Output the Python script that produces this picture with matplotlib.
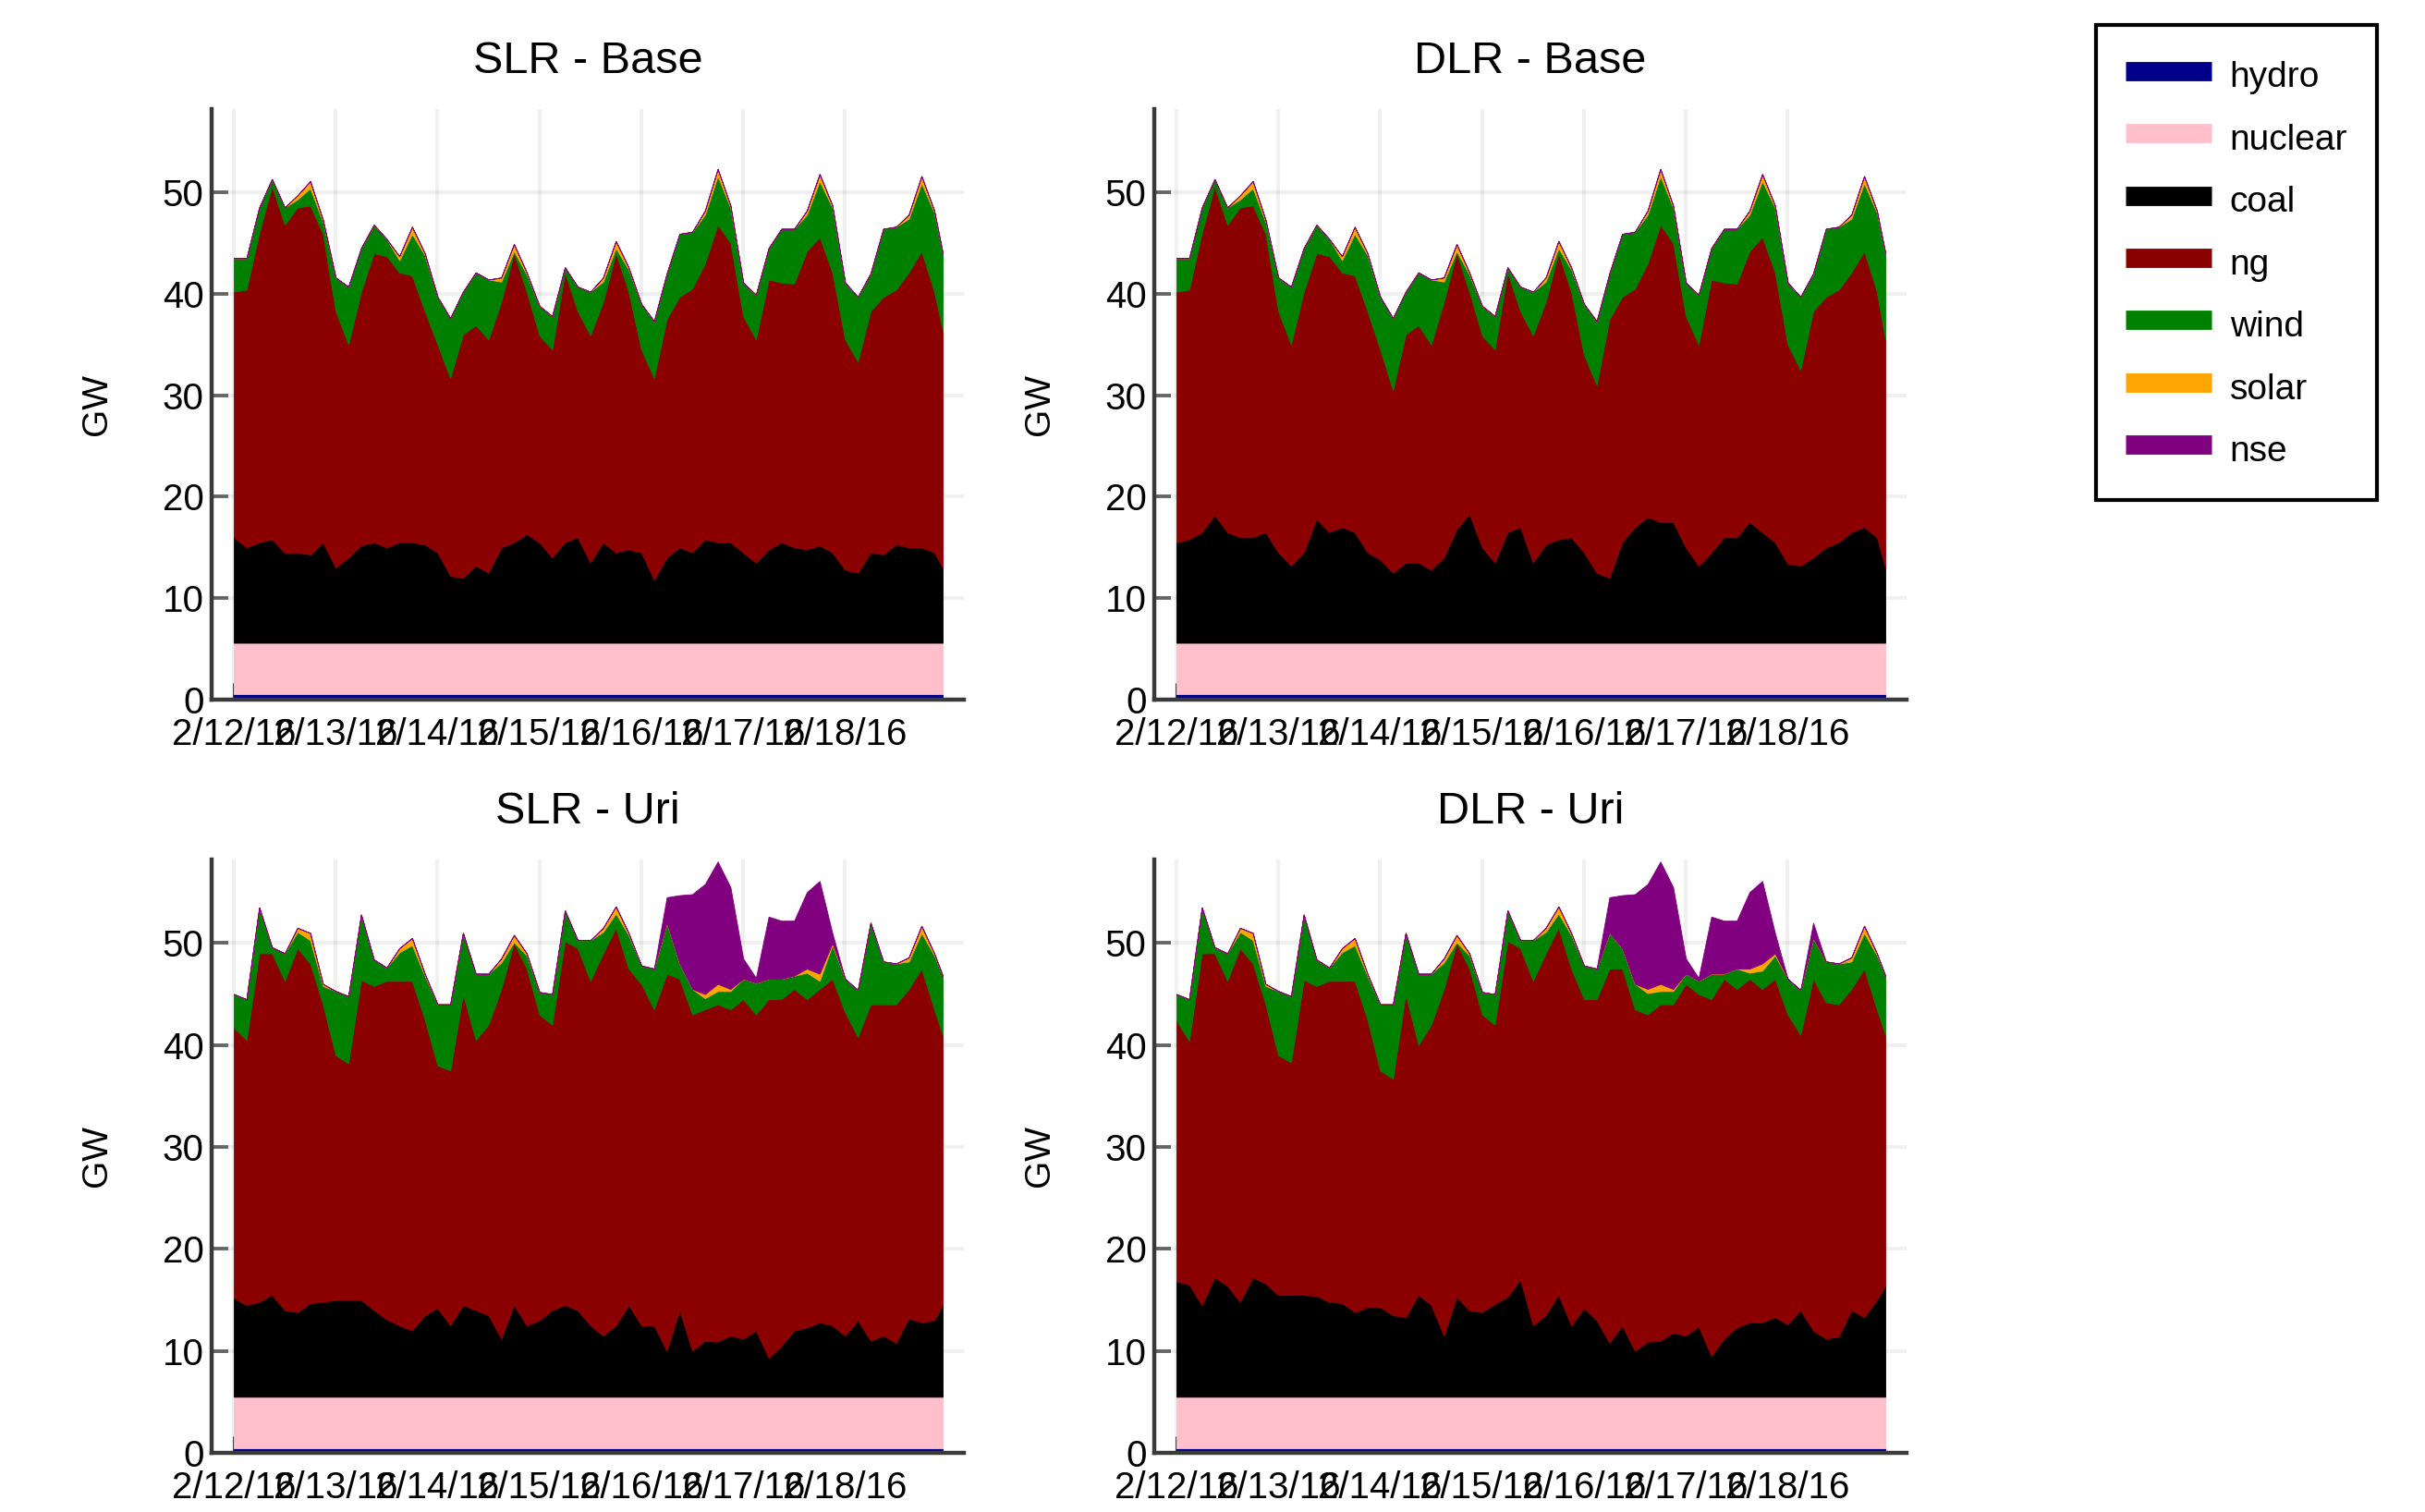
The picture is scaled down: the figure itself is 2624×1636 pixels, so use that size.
import numpy as np
import matplotlib
matplotlib.use("Agg")
import matplotlib.pyplot as plt
from matplotlib.lines import Line2D

plt.rcParams['font.family'] = ['Liberation Sans', 'DejaVu Sans']

# hours since 2/12/16 00:00, sampled every 3 h
hours = list(range(0, 166, 3)) + [167]
day_ticks = [0, 24, 48, 72, 96, 120, 144]
day_labels = ['2/12/16', '2/13/16', '2/14/16', '2/15/16', '2/16/16', '2/17/16', '2/18/16']

techs = ['hydro', 'nuclear', 'coal', 'ng', 'wind', 'solar', 'nse']
colors = ['#00008b', '#ffc0cb', '#000000', '#8b0000', '#008000', '#ffa500', '#800080']

# solar output (GW), same daily shape in every case
solar = [0, 0, 0, 0, 0, 0.4, 0.7, 0.2,
         0, 0, 0, 0, 0, 0.4, 0.7, 0.2,
         0, 0, 0, 0, 0, 0.4, 0.7, 0.2,
         0, 0, 0, 0, 0, 0.4, 0.7, 0.2,
         0, 0, 0, 0, 0, 0.4, 0.7, 0.2,
         0, 0, 0, 0, 0, 0.4, 0.7, 0.2,
         0, 0, 0, 0, 0, 0.4, 0.7, 0.2,
         0]

# ---- Base week ----
hydro_base = [0.55] * 57
nuclear_base = [5.05] * 57

# top of the stack (total generation)
total_base = [43.5, 43.5, 48.5, 51.3, 48.5, 49.7, 51.1, 47.3,
              41.6, 40.7, 44.5, 46.8, 45.4, 43.7, 46.6, 44.0,
              39.7, 37.6, 40.2, 42.1, 41.4, 41.6, 44.9, 42.1,
              38.8, 37.8, 42.6, 40.7, 40.2, 41.6, 45.2, 42.6,
              39.0, 37.3, 42.0, 45.9, 46.1, 48.2, 52.3, 48.7,
              41.1, 39.9, 44.5, 46.4, 46.4, 48.2, 51.8, 48.7,
              41.1, 39.7, 42.0, 46.4, 46.6, 47.8, 51.6, 48.2,
              44.0]

slr_base_ng_top = [40.2, 40.4, 46.0, 50.6, 46.8, 48.5, 48.7, 45.9,
                   38.3, 35.0, 40.2, 44.0, 43.7, 42.1, 41.8, 38.3,
                   35.0, 31.7, 36.0, 36.9, 35.5, 39.2, 44.0, 40.2,
                   35.9, 34.5, 42.1, 38.3, 35.9, 39.2, 44.0, 40.2,
                   34.5, 31.7, 37.5, 39.7, 40.5, 43.0, 46.8, 45.0,
                   37.8, 35.5, 41.4, 41.1, 41.0, 44.2, 45.6, 42.1,
                   35.5, 33.3, 38.3, 39.7, 40.4, 42.1, 44.2, 40.2,
                   36.4]

slr_base_coal_top = [16.0, 15.0, 15.5, 15.8, 14.5, 14.5, 14.3, 15.5,
                     13.0, 14.0, 15.2, 15.5, 15.0, 15.5, 15.5, 15.3,
                     14.5, 12.2, 12.0, 13.2, 12.5, 15.0, 15.5, 16.3,
                     15.5, 14.0, 15.5, 16.0, 13.5, 15.5, 14.5, 14.8,
                     14.5, 11.8, 14.0, 15.0, 14.5, 15.8, 15.5, 15.5,
                     14.5, 13.5, 14.8, 15.5, 15.0, 14.8, 15.2, 14.5,
                     12.8, 12.5, 14.5, 14.3, 15.3, 15.0, 15.0, 14.5,
                     13.0]

dlr_base_ng_top = [40.2, 40.4, 46.0, 50.6, 46.8, 48.5, 48.7, 45.9,
                   38.3, 35.0, 40.2, 44.0, 43.7, 42.1, 41.8, 38.3,
                   34.5, 30.5, 36.0, 36.9, 35.0, 39.2, 44.0, 40.2,
                   35.9, 34.5, 42.1, 38.3, 35.9, 39.2, 44.0, 40.2,
                   34.0, 31.0, 37.5, 39.7, 40.5, 43.0, 46.8, 45.0,
                   37.8, 35.0, 41.4, 41.1, 41.0, 44.2, 45.6, 42.1,
                   35.0, 32.5, 38.3, 39.7, 40.4, 42.1, 44.2, 40.2,
                   35.5]

dlr_base_coal_top = [15.5, 15.8, 16.5, 18.2, 16.5, 16.0, 16.0, 16.5,
                     14.5, 13.2, 14.5, 17.8, 16.5, 17.0, 16.5, 14.5,
                     13.8, 12.5, 13.5, 13.5, 12.8, 14.0, 16.8, 18.3,
                     15.0, 13.5, 16.5, 17.0, 13.5, 15.3, 15.8, 16.0,
                     14.5, 12.5, 12.0, 15.5, 17.0, 18.0, 17.5, 17.5,
                     15.0, 13.2, 14.5, 16.0, 16.0, 17.5, 16.5, 15.5,
                     13.4, 13.2, 14.0, 15.0, 15.5, 16.5, 17.0, 16.0,
                     13.0]

nse_base = [0] * 57

# ---- Uri week ----
hydro_uri = [0.45] * 57
nuclear_uri = [5.05] * 57

total_uri = [45.0, 44.5, 53.5, 49.6, 49.0, 51.5, 51.0, 46.0,
             45.3, 44.8, 52.8, 48.4, 47.6, 49.5, 50.5, 47.0,
             44.0, 44.0, 51.0, 47.0, 47.0, 48.5, 50.8, 49.0,
             45.2, 45.0, 53.2, 50.3, 50.3, 51.5, 53.6, 51.0,
             47.8, 47.5, 54.5, 54.7, 54.8, 55.8, 58.0, 55.5,
             48.5, 46.6, 52.6, 52.2, 52.2, 55.0, 56.1, 51.0,
             46.5, 45.4, 52.0, 48.2, 48.0, 48.6, 51.7, 49.0,
             46.8]

slr_uri_ng_top = [41.7, 40.5, 49.0, 49.0, 46.3, 49.5, 48.0, 44.0,
                  39.0, 38.2, 46.4, 45.8, 46.3, 46.3, 46.3, 42.5,
                  38.0, 37.5, 45.0, 40.5, 42.0, 45.5, 50.0, 47.5,
                  43.0, 42.0, 50.2, 49.5, 46.3, 49.0, 51.5, 47.5,
                  46.0, 43.5, 47.0, 46.5, 43.0, 43.5, 44.0, 43.5,
                  44.5, 43.0, 44.5, 44.5, 45.5, 44.5, 45.5, 46.5,
                  43.2, 40.8, 44.0, 44.0, 44.0, 45.5, 47.5, 43.5,
                  41.0]

slr_uri_coal_top = [15.2, 14.5, 14.8, 15.5, 14.0, 13.8, 14.7, 14.8,
                    15.0, 15.0, 15.0, 14.0, 13.1, 12.5, 12.0, 13.5,
                    14.2, 12.5, 14.5, 14.0, 13.5, 11.2, 14.5, 12.5,
                    13.0, 14.0, 14.5, 14.0, 12.5, 11.5, 12.5, 14.5,
                    12.5, 12.5, 10.0, 14.0, 10.0, 11.0, 10.9, 11.5,
                    11.2, 12.0, 9.3, 10.5, 12.0, 12.3, 12.8, 12.5,
                    11.5, 13.0, 11.0, 11.5, 10.8, 13.2, 12.8, 13.0,
                    14.5]

slr_uri_nse = [0, 0, 0, 0, 0, 0, 0, 0,
               0, 0, 0, 0, 0, 0, 0, 0,
               0, 0, 0, 0, 0, 0, 0, 0,
               0, 0, 0, 0, 0, 0, 0, 0,
               0, 0, 2.5, 6.7, 9.3, 10.8, 12.0, 10.0,
               2.0, 0.5, 6.1, 5.7, 5.4, 7.5, 9.1, 1.0,
               0, 0, 0, 0, 0, 0, 0, 0,
               0]

dlr_uri_ng_top = [42.4, 40.4, 49.0, 49.0, 46.3, 49.5, 48.0, 44.0,
                  39.0, 38.3, 46.4, 45.8, 46.3, 46.3, 46.3, 42.5,
                  37.5, 36.7, 45.0, 40.0, 42.0, 45.5, 50.0, 47.5,
                  43.0, 42.0, 50.2, 49.5, 46.3, 49.0, 51.5, 47.5,
                  44.5, 44.5, 47.5, 47.5, 43.5, 43.0, 44.0, 44.0,
                  46.0, 45.0, 44.5, 46.5, 45.5, 46.5, 45.5, 46.5,
                  43.0, 41.0, 46.5, 44.2, 44.0, 45.5, 47.5, 43.5,
                  41.0]

dlr_uri_coal_top = [16.8, 16.5, 14.5, 17.2, 16.4, 14.8, 17.2, 16.6,
                    15.5, 15.5, 15.5, 15.4, 14.8, 14.7, 13.8, 14.3,
                    14.3, 13.5, 13.3, 15.5, 14.5, 11.5, 15.3, 14.0,
                    13.8, 14.6, 15.3, 17.0, 12.5, 13.5, 15.5, 12.5,
                    14.2, 13.0, 10.8, 12.5, 10.0, 10.9, 11.0, 11.8,
                    11.5, 12.4, 9.5, 11.2, 12.3, 12.8, 12.8, 13.3,
                    12.6, 14.0, 12.0, 11.2, 11.4, 14.0, 13.3, 15.0,
                    16.4]

dlr_uri_nse = [0, 0, 0, 0, 0, 0, 0, 0,
               0, 0, 0, 0, 0, 0, 0, 0,
               0, 0, 0, 0, 0, 0, 0, 0,
               0, 0, 0, 0, 0, 0, 0, 0,
               0, 0, 3.5, 5.2, 8.8, 10.3, 12.0, 10.0,
               1.5, 0.3, 5.6, 5.2, 4.7, 7.5, 8.1, 2.0,
               0, 0, 1.5, 0, 0, 0, 0, 0,
               0]


def layers(hydro, nuclear, coal_top, ng_top, total, nse):
    hydro = np.array(hydro, float)
    nuclear = np.array(nuclear, float)
    coal = np.array(coal_top) - hydro - nuclear
    ng = np.array(ng_top) - np.array(coal_top)
    nse = np.array(nse, float)
    sol = np.array(solar, float)
    wind = np.clip(np.array(total) - nse - sol - np.array(ng_top), 0, None)
    return [hydro, nuclear, coal, ng, wind, sol, nse]


cases = [
    ('SLR - Base', layers(hydro_base, nuclear_base, slr_base_coal_top, slr_base_ng_top, total_base, nse_base)),
    ('DLR - Base', layers(hydro_base, nuclear_base, dlr_base_coal_top, dlr_base_ng_top, total_base, nse_base)),
    ('SLR - Uri', layers(hydro_uri, nuclear_uri, slr_uri_coal_top, slr_uri_ng_top, total_uri, slr_uri_nse)),
    ('DLR - Uri', layers(hydro_uri, nuclear_uri, dlr_uri_coal_top, dlr_uri_ng_top, total_uri, dlr_uri_nse)),
]

fig = plt.figure(figsize=(13.12, 8.18), dpi=200)
W, H = 2624, 1636
# axes boxes in pixels: left, top, right, bottom
boxes = [(229, 118, 1043, 757), (1249, 118, 2063, 757),
         (229, 930, 1043, 1572), (1249, 930, 2063, 1572)]

for (title, stack), (l, t, r, b) in zip(cases, boxes):
    ax = fig.add_axes([l / W, 1 - b / H, (r - l) / W, (b - t) / H])
    ax.stackplot(hours, *stack, colors=colors, linewidth=0.3,
                 edgecolor='face', zorder=2)
    ax.set_xlim(-5.2, 172)
    ax.set_ylim(0, 58.2)
    ax.set_xticks(day_ticks)
    ax.set_xticklabels(day_labels)
    ax.set_yticks([0, 10, 20, 30, 40, 50])
    ax.grid(True, color='black', alpha=0.06, linewidth=1.5)
    ax.set_axisbelow(True)
    for s in ['top', 'right']:
        ax.spines[s].set_visible(False)
    for s in ['left', 'bottom']:
        ax.spines[s].set_color('#3a3a3a')
        ax.spines[s].set_linewidth(1.6)
        ax.spines[s].set_zorder(5)
    ax.tick_params(axis='x', direction='in', length=6.5, width=1.0,
                   color='#333333', labelsize=14.5, pad=7)
    ax.tick_params(axis='y', direction='in', length=6.5, width=1.4,
                   color='#666666', labelsize=14.5, pad=3)
    ax.set_ylabel('GW', fontsize=14)
    ax.yaxis.set_label_coords(-0.13, 0.5)
    ax.set_title(title, fontsize=17.5, pad=14)

handles = [Line2D([0], [0], color=c, linewidth=7.5, solid_capstyle='butt') for c in colors]
leg = fig.legend(handles, techs, loc='upper left',
                 bbox_to_anchor=(2268 / W, 1 - 27 / H), borderaxespad=0,
                 fontsize=14, frameon=True, fancybox=False, framealpha=1,
                 edgecolor='black', handlelength=2.4, handleheight=1.4,
                 handletextpad=0.5, labelspacing=0.58, borderpad=0.82)
leg.get_frame().set_linewidth(1.5)

fig.savefig('out.png', dpi=200)
